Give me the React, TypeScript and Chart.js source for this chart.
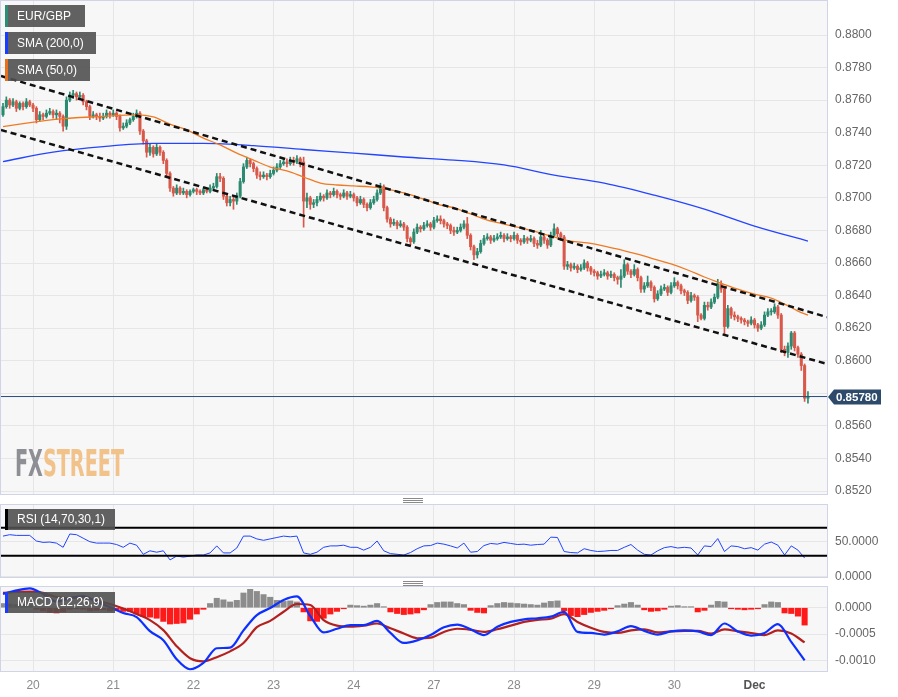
import { useEffect, useRef } from "react";
import { Chart, registerables } from "chart.js";

Chart.register(...registerables);

// ---------------- DATA ----------------
// hourly EUR/GBP candles, index 0 = first candle (Nov 19, ~15:00)
const FIRST_OPEN = 0.8751;
const closes = [
  0.8756, 0.8760, 0.8757, 0.8759, 0.8755, 0.8758, 0.8756, 0.8759, 0.8757, 0.8755,
  0.8748, 0.8751, 0.8750, 0.8752, 0.8753, 0.8751, 0.8752, 0.8750, 0.8744, 0.8760,
  0.8763, 0.8764, 0.8762, 0.8763, 0.8759, 0.8756, 0.8750, 0.8751, 0.8750, 0.8749,
  0.8750, 0.8752, 0.8751, 0.8752, 0.8750, 0.8743, 0.8744, 0.8746, 0.8748, 0.8750,
  0.8752, 0.8741, 0.8735, 0.8728, 0.8731, 0.8727, 0.8731, 0.8728, 0.8723, 0.8715,
  0.8706, 0.8703, 0.8706, 0.8703, 0.8704, 0.8702, 0.8704, 0.8705, 0.8704, 0.8703,
  0.8705, 0.8704, 0.8706, 0.8707, 0.8713, 0.8712, 0.8701, 0.8697, 0.8699, 0.8698,
  0.8701, 0.8710, 0.8719, 0.8723, 0.8721, 0.8718, 0.8714, 0.8713, 0.8714, 0.8713,
  0.8715, 0.8717, 0.8719, 0.8721, 0.8722, 0.8721, 0.8723, 0.8722, 0.8724, 0.8722,
  0.8698, 0.8700, 0.8696, 0.8697, 0.8699, 0.8701, 0.8700, 0.8703, 0.8702, 0.8704,
  0.8702, 0.8701, 0.8703, 0.8701, 0.8702, 0.8700, 0.8697, 0.8699, 0.8696, 0.8694,
  0.8697, 0.8699, 0.8703, 0.8707, 0.8694, 0.8687, 0.8684, 0.8685, 0.8683, 0.8684,
  0.8682, 0.8675, 0.8673, 0.8679, 0.8682, 0.8681, 0.8683, 0.8684, 0.8682, 0.8686,
  0.8687, 0.8686, 0.8684, 0.8683, 0.8680, 0.8679, 0.8680, 0.8682, 0.8684, 0.8677,
  0.8670, 0.8665, 0.8667, 0.8672, 0.8675, 0.8676, 0.8674, 0.8675, 0.8676, 0.8677,
  0.8675, 0.8676, 0.8675, 0.8677, 0.8674, 0.8673, 0.8675, 0.8674, 0.8675, 0.8672,
  0.8671, 0.8676, 0.8674, 0.8671, 0.8677, 0.8681, 0.8678, 0.8676, 0.8658, 0.8659,
  0.8657, 0.8658, 0.8656, 0.8657, 0.8660, 0.8657, 0.8655, 0.8654, 0.8652, 0.8653,
  0.8654, 0.8652, 0.8653, 0.8651, 0.8650, 0.8652, 0.8659, 0.8655, 0.8653, 0.8656,
  0.8651, 0.8644, 0.8646, 0.8648, 0.8645, 0.8638, 0.8641, 0.8644, 0.8645, 0.8642,
  0.8646, 0.8648, 0.8646, 0.8643, 0.8642, 0.8637, 0.8640, 0.8639, 0.8628, 0.8626,
  0.8634, 0.8633, 0.8636, 0.8639, 0.8647, 0.8644, 0.8621, 0.8632, 0.8628, 0.8627,
  0.8626, 0.8625, 0.8624, 0.8623, 0.8625, 0.8622, 0.8620, 0.8622, 0.8628, 0.8630,
  0.8630, 0.8633, 0.8628, 0.8607, 0.8605, 0.8609, 0.8617, 0.8608, 0.8604, 0.8597,
  0.8577, 0.8578,
];
const highs = [
  0.8758, 0.8762, 0.8761, 0.8761, 0.8760, 0.8759, 0.8759, 0.8761, 0.8760, 0.8758,
  0.8756, 0.8753, 0.8752, 0.8754, 0.8755, 0.8754, 0.8754, 0.8753, 0.8751, 0.8762,
  0.8765, 0.8766, 0.8765, 0.8765, 0.8764, 0.8760, 0.8757, 0.8753, 0.8752, 0.8752,
  0.8752, 0.8754, 0.8753, 0.8754, 0.8753, 0.8751, 0.8746, 0.8748, 0.8749, 0.8752,
  0.8754, 0.8753, 0.8742, 0.8736, 0.8733, 0.8732, 0.8733, 0.8732, 0.8729, 0.8724,
  0.8716, 0.8707, 0.8708, 0.8707, 0.8706, 0.8705, 0.8705, 0.8706, 0.8706, 0.8705,
  0.8706, 0.8706, 0.8708, 0.8709, 0.8715, 0.8715, 0.8713, 0.8702, 0.8701, 0.8701,
  0.8703, 0.8712, 0.8721, 0.8725, 0.8724, 0.8722, 0.8719, 0.8716, 0.8716, 0.8715,
  0.8717, 0.8719, 0.8721, 0.8723, 0.8724, 0.8724, 0.8725, 0.8725, 0.8726, 0.8725,
  0.8725, 0.8703, 0.8701, 0.8699, 0.8701, 0.8703, 0.8702, 0.8705, 0.8704, 0.8706,
  0.8705, 0.8703, 0.8705, 0.8704, 0.8704, 0.8703, 0.8701, 0.8701, 0.8700, 0.8697,
  0.8699, 0.8701, 0.8705, 0.8709, 0.8708, 0.8695, 0.8688, 0.8687, 0.8686, 0.8686,
  0.8685, 0.8683, 0.8676, 0.8681, 0.8684, 0.8683, 0.8685, 0.8686, 0.8685, 0.8688,
  0.8689, 0.8689, 0.8687, 0.8685, 0.8684, 0.8682, 0.8682, 0.8684, 0.8686, 0.8688,
  0.8678, 0.8671, 0.8669, 0.8674, 0.8677, 0.8678, 0.8677, 0.8677, 0.8678, 0.8679,
  0.8678, 0.8678, 0.8677, 0.8679, 0.8678, 0.8675, 0.8677, 0.8676, 0.8677, 0.8676,
  0.8674, 0.8680, 0.8677, 0.8675, 0.8679, 0.8684, 0.8682, 0.8679, 0.8677, 0.8661,
  0.8660, 0.8660, 0.8659, 0.8659, 0.8662, 0.8661, 0.8658, 0.8656, 0.8655, 0.8655,
  0.8656, 0.8655, 0.8655, 0.8654, 0.8652, 0.8656, 0.8662, 0.8660, 0.8656, 0.8659,
  0.8657, 0.8652, 0.8648, 0.8652, 0.8649, 0.8646, 0.8643, 0.8646, 0.8647, 0.8646,
  0.8648, 0.8651, 0.8649, 0.8647, 0.8644, 0.8643, 0.8642, 0.8641, 0.8640, 0.8629,
  0.8636, 0.8636, 0.8638, 0.8641, 0.8650, 0.8649, 0.8645, 0.8634, 0.8633, 0.8630,
  0.8628, 0.8627, 0.8626, 0.8625, 0.8627, 0.8626, 0.8623, 0.8624, 0.8630, 0.8632,
  0.8632, 0.8635, 0.8634, 0.8629, 0.8609, 0.8611, 0.8618, 0.8618, 0.8609, 0.8605,
  0.8598, 0.8581,
];
const lows = [
  0.8750, 0.8755, 0.8755, 0.8756, 0.8753, 0.8754, 0.8754, 0.8755, 0.8756, 0.8753,
  0.8746, 0.8747, 0.8748, 0.8749, 0.8751, 0.8749, 0.8748, 0.8746, 0.8741, 0.8742,
  0.8759, 0.8761, 0.8760, 0.8761, 0.8757, 0.8754, 0.8748, 0.8749, 0.8748, 0.8747,
  0.8748, 0.8749, 0.8749, 0.8750, 0.8748, 0.8741, 0.8742, 0.8743, 0.8745, 0.8747,
  0.8749, 0.8739, 0.8733, 0.8725, 0.8726, 0.8725, 0.8726, 0.8726, 0.8721, 0.8713,
  0.8704, 0.8701, 0.8702, 0.8702, 0.8702, 0.8700, 0.8701, 0.8703, 0.8702, 0.8702,
  0.8702, 0.8703, 0.8703, 0.8705, 0.8706, 0.8710, 0.8699, 0.8695, 0.8695, 0.8693,
  0.8696, 0.8700, 0.8709, 0.8718, 0.8719, 0.8716, 0.8712, 0.8711, 0.8712, 0.8711,
  0.8712, 0.8714, 0.8716, 0.8718, 0.8720, 0.8719, 0.8720, 0.8720, 0.8721, 0.8719,
  0.8682, 0.8694, 0.8693, 0.8694, 0.8695, 0.8698, 0.8698, 0.8699, 0.8700, 0.8701,
  0.8700, 0.8699, 0.8700, 0.8699, 0.8700, 0.8698, 0.8695, 0.8696, 0.8694, 0.8692,
  0.8693, 0.8696, 0.8698, 0.8702, 0.8692, 0.8685, 0.8682, 0.8683, 0.8681, 0.8682,
  0.8680, 0.8673, 0.8671, 0.8672, 0.8678, 0.8679, 0.8680, 0.8682, 0.8680, 0.8681,
  0.8685, 0.8684, 0.8682, 0.8681, 0.8678, 0.8677, 0.8678, 0.8679, 0.8681, 0.8675,
  0.8668, 0.8662, 0.8663, 0.8666, 0.8671, 0.8674, 0.8672, 0.8673, 0.8674, 0.8675,
  0.8673, 0.8674, 0.8673, 0.8674, 0.8672, 0.8671, 0.8672, 0.8672, 0.8673, 0.8670,
  0.8669, 0.8670, 0.8672, 0.8669, 0.8670, 0.8676, 0.8676, 0.8674, 0.8656, 0.8656,
  0.8655, 0.8656, 0.8654, 0.8655, 0.8656, 0.8655, 0.8653, 0.8652, 0.8650, 0.8651,
  0.8652, 0.8650, 0.8651, 0.8649, 0.8647, 0.8645, 0.8651, 0.8653, 0.8651, 0.8652,
  0.8649, 0.8642, 0.8642, 0.8645, 0.8643, 0.8636, 0.8637, 0.8640, 0.8643, 0.8640,
  0.8641, 0.8645, 0.8644, 0.8641, 0.8640, 0.8635, 0.8636, 0.8637, 0.8624, 0.8625,
  0.8625, 0.8631, 0.8632, 0.8635, 0.8638, 0.8642, 0.8616, 0.8620, 0.8626, 0.8625,
  0.8624, 0.8623, 0.8622, 0.8621, 0.8622, 0.8620, 0.8618, 0.8619, 0.8621, 0.8627,
  0.8628, 0.8629, 0.8626, 0.8605, 0.8603, 0.8602, 0.8607, 0.8606, 0.8602, 0.8594,
  0.8575, 0.8574,
];

const dayTicks = [9, 33, 57, 81, 105, 129, 153, 177, 201, 225];
const dayLabels = ["20", "21", "22", "23", "24", "27", "28", "29", "30", "Dec"];
const priceTicks = [0.852, 0.854, 0.856, 0.858, 0.86, 0.862, 0.864, 0.866, 0.868, 0.87, 0.872, 0.874, 0.876, 0.878, 0.88];

const sma200X = [0, 15, 30, 45, 60, 75, 90, 105, 120, 135, 150, 165, 180, 195, 210, 225, 241];
const sma200 = [0.87223, 0.87281, 0.87315, 0.87334, 0.87334, 0.87321, 0.87297, 0.87275, 0.87251, 0.87232, 0.87202, 0.8714, 0.87091, 0.87017, 0.86931, 0.86827, 0.86735];

const sma50X = [0, 15, 30, 40, 45, 50, 55, 60, 65, 70, 75, 80, 85, 90, 95, 100, 105, 110, 115, 120, 125, 130, 135, 140, 145, 150, 155, 160, 165, 170, 175, 180, 185, 190, 195, 200, 205, 210, 214, 220, 225, 230, 234, 238, 241];
const sma50 = [
  0.87438, 0.87481, 0.875, 0.87509, 0.87497, 0.87453, 0.87417, 0.87367, 0.87325, 0.87275,
  0.87232, 0.87189, 0.87165, 0.87128, 0.87091, 0.87079, 0.87073, 0.87067, 0.87054, 0.8703,
  0.86999, 0.86962, 0.86938, 0.86901, 0.86864, 0.86839, 0.86815, 0.8679, 0.8676, 0.86735,
  0.86723, 0.86704, 0.8668, 0.86655, 0.86624, 0.86594, 0.86557, 0.86514, 0.86483, 0.8644,
  0.86409, 0.86385, 0.86348, 0.86305, 0.8628,
];

const trendX = [-0.6, 246.7];
const upperTrend = [0.87748, 0.86268];
const lowerTrend = [0.87417, 0.8598];
const lastPrice = 0.8578;

const rsiStep = 2;
const rsi = [
  58, 60, 59, 59, 59, 51, 49, 49.5, 48, 42,
  61, 60, 55, 50, 48, 48, 48, 46, 42, 48,
  45, 32, 37, 35, 37, 24, 29.5, 28, 29.5, 31,
  31, 34, 44, 34, 34, 41, 58, 58, 54, 52,
  54, 56, 58, 57, 58, 34, 32, 35, 42, 44,
  44, 45, 42, 42, 38, 42, 51, 37, 33, 32,
  31, 34.5, 40, 44, 44.5, 48, 46.5, 44, 41, 48,
  35, 36, 44.5, 47.5, 46.5, 49, 47.5, 46, 46.5, 45,
  46, 46.5, 56.5, 56, 36, 34.5, 34, 40, 37.5, 36,
  36.5, 37.5, 37.5, 42, 46, 38, 32, 31, 37, 41.5,
  43, 41, 42, 41, 31, 44, 43, 54.5, 36, 44,
  43, 40, 41.5, 38, 46.5, 49.5, 45, 31, 44, 38,
  26.7,
];
const rsiLevels = [70, 30];
const rsiTicks = [0, 50];

const macdStep = 4;
const macd = [
  0.000262, 0.000329, 0.000367, 0.000262, 0.000118, 0.000185, 0.000223, 0.000109, 0.000013, -0.000101,
  -0.000178, -0.000445, -0.000617, -0.00098, -0.00117, -0.00105, -0.00077, -0.00076, -0.00043, -0.00014,
  -0.000006, 0.000147, 0.000214, -0.000159, -0.00047, -0.0004, -0.00033, -0.00033, -0.00025, -0.00048,
  -0.00067, -0.00062, -0.00052, -0.00037, -0.00032, -0.00041, -0.00052, -0.00036, -0.00027, -0.00022,
  -0.0002, -0.00017, -0.00008, -0.00046, -0.00048, -0.00051, -0.00045, -0.00035, -0.00044, -0.00051,
  -0.00045, -0.00043, -0.00045, -0.00052, -0.0003, -0.00045, -0.00053, -0.00048, -0.00031, -0.00065,
  -0.001,
];
const signal = [
  0.000281, 0.0003, 0.000306, 0.000281, 0.000204, 0.000185, 0.000199, 0.000138, 0.000071, -0.000015,
  -0.00012, -0.000235, -0.000426, -0.000732, -0.00096, -0.00102, -0.00094, -0.00083, -0.00067, -0.00037,
  -0.00025, -0.000076, 0.000071, 0.000052, -0.000235, -0.00034, -0.00036, -0.00034, -0.0003, -0.00039,
  -0.00049, -0.00058, -0.00057, -0.00046, -0.0004, -0.00042, -0.00046, -0.00041, -0.00034, -0.00027,
  -0.00023, -0.00021, -0.00012, -0.00027, -0.00038, -0.00046, -0.00048, -0.00043, -0.00041, -0.00047,
  -0.00045, -0.00044, -0.00044, -0.00049, -0.00041, -0.00045, -0.00048, -0.00052, -0.00043, -0.00049,
  -0.00066,
];
const histStep = 2;
const hist = [
  0.00008, 0.00007, 0.00006, 0.00006, 0.00005, -0.00003, -0.00006, -0.00009, -0.0001, -0.00008,
  -0.00003, -0.00002, -0.00003, -0.00006, -0.00005, -0.00004, -0.00006, -0.00005, -0.00007, -0.00007,
  -0.00012, -0.00017, -0.00018, -0.0002, -0.00026, -0.00031, -0.0003, -0.00029, -0.00022, -0.00012,
  -0.00003, 0.00008, 0.00018, 0.00015, 0.00011, 0.00014, 0.00028, 0.00035, 0.00031, 0.00025,
  0.0002, 0.00014, 0.00012, 0.00013, 0.00011, -0.00008, -0.00025, -0.00026, -0.0002, -0.00012,
  -0.00007, -0.00002, 0.00005, 0.00004, 0.00003, 0.00005, 0.00008, 0.00002, -0.00008, -0.00011,
  -0.00013, -0.00012, -0.0001, -0.00004, 0.00006, 0.0001, 0.00011, 0.00011, 0.00008, 0.00006,
  -0.00005, -0.00009, -0.0001, 0.00004, 0.00008, 0.0001, 0.00009, 0.00008, 0.00007, 0.00006,
  0.00005, 0.00009, 0.00012, 0.00013, -0.00006, -0.00015, -0.00017, -0.00013, -0.00009, -0.00007,
  -0.00005, -0.00002, 0.00004, 0.00007, 0.0001, 0.00005, -0.00004, -0.00007, -0.00006, -0.00003,
  0.00003, 0.00004, 0.00002, 0.00002, -0.00008, -0.00005, 0.00005, 0.00012, 0.00011, -0.00002,
  -0.00003, -0.00004, -0.00003, -0.00002, 0.00006, 0.00011, 0.0001, -0.0001, -0.00011, -0.00016,
  -0.00033,
];
const macdTicks = [0, -0.0005, -0.001];

// ---------------- STYLE ----------------
const X_MIN = -0.6;
const X_MAX = 246.7;
const FONT = '"Liberation Sans", Arial, sans-serif';
const GRID = "#e6e6e6";
const BORDER = "#cfd4e6";
const PANEL_BG = "#f7f7f7";
const UP = "#2b8a6f";
const DOWN = "#d8584a";
const AXIS_W = 71;

Chart.defaults.font.family = FONT;

const panelPlugin = {
  id: "panel",
  beforeDraw(chart: any) {
    const { ctx, chartArea: a } = chart;
    ctx.save();
    ctx.fillStyle = PANEL_BG;
    ctx.fillRect(a.left, a.top, a.right - a.left, a.bottom - a.top);
    ctx.restore();
  },
  afterDraw(chart: any) {
    const { ctx, chartArea: a } = chart;
    ctx.save();
    ctx.strokeStyle = BORDER;
    ctx.lineWidth = 1;
    ctx.strokeRect(a.left - 0.5, a.top - 0.5, a.right - a.left + 1, a.bottom - a.top + 1);
    ctx.restore();
  },
};

const watermarkPlugin = {
  id: "watermark",
  beforeDatasetsDraw(chart: any) {
    const ctx = chart.ctx;
    ctx.save();
    ctx.font = 'bold 38px "DejaVu Sans Condensed", "Liberation Sans Narrow", sans-serif';
    const w1 = ctx.measureText("FX").width;
    const w2 = ctx.measureText("STREET").width;
    const sx = 109 / (w1 + w2);
    ctx.translate(chart.chartArea.left + 14, 476);
    ctx.scale(sx, 1);
    ctx.textBaseline = "alphabetic";
    ctx.fillStyle = "#8e8e95";
    ctx.fillText("FX", 0, 0);
    ctx.fillStyle = "#f2c28b";
    ctx.fillText("STREET", w1, 0);
    ctx.restore();
  },
};

const priceTagPlugin = {
  id: "priceTag",
  afterDraw(chart: any) {
    const { ctx, chartArea: a } = chart;
    const y = Math.round(chart.scales.y.getPixelForValue(lastPrice));
    const x0 = a.right + 1;
    ctx.save();
    ctx.fillStyle = "#2e4a6b";
    ctx.beginPath();
    ctx.moveTo(x0, y);
    ctx.lineTo(x0 + 6, y - 7.5);
    ctx.lineTo(x0 + 53, y - 7.5);
    ctx.lineTo(x0 + 53, y + 7.5);
    ctx.lineTo(x0 + 6, y + 7.5);
    ctx.closePath();
    ctx.fill();
    ctx.font = "bold 11.5px " + FONT;
    ctx.fillStyle = "#ffffff";
    ctx.textBaseline = "middle";
    ctx.textAlign = "left";
    ctx.fillText(lastPrice.toFixed(5), x0 + 8, y + 0.5);
    ctx.restore();
  },
};

function xAxis(showLabels: boolean) {
  return {
    type: "linear",
    min: X_MIN,
    max: X_MAX,
    offset: false,
    afterBuildTicks: (s: any) => {
      s.ticks = dayTicks.map((v) => ({ value: v }));
    },
    afterFit: (s: any) => {
      s.height = showLabels ? 26 : 0;
      s.paddingLeft = 0;
      s.paddingRight = 0;
      s.paddingTop = 0;
      s.paddingBottom = 0;
    },
    grid: { color: GRID, lineWidth: 1, drawTicks: false, offset: false },
    border: { display: false },
    ticks: {
      display: showLabels,
      autoSkip: false,
      maxRotation: 0,
      padding: 7,
      color: (c: any) => (dayLabels[c.index] === "Dec" ? "#555" : "#8a8a8a"),
      font: (c: any) => ({ family: FONT, size: 12, weight: dayLabels[c.index] === "Dec" ? "bold" : "normal" }),
      callback: (_v: any, i: number) => dayLabels[i] ?? "",
    },
  };
}

function yAxis(min: number, max: number, ticks: number[], hideNear?: number) {
  return {
    position: "right",
    min,
    max,
    afterBuildTicks: (s: any) => {
      s.ticks = ticks.map((v) => ({ value: v }));
    },
    afterFit: (s: any) => {
      s.width = AXIS_W;
      s.paddingTop = 0;
      s.paddingBottom = 0;
      s.paddingLeft = 0;
      s.paddingRight = 0;
    },
    grid: { color: GRID, lineWidth: 1, drawTicks: false },
    border: { display: false },
    ticks: {
      padding: 8,
      color: "#666",
      font: { family: FONT, size: 12 },
      callback: (v: any) => {
        const n = Number(v);
        if (hideNear !== undefined && Math.abs(n - hideNear) < 0.0005) return "";
        return n.toFixed(4);
      },
    },
  };
}

const baseOptions = {
  animation: false,
  responsive: false,
  events: [],
  plugins: { legend: { display: false }, tooltip: { enabled: false } },
};

function Tag({ x, y, w, h, text, stripe }: any) {
  return (
    <div
      style={{
        position: "absolute",
        left: x,
        top: y,
        width: w,
        height: h,
        background: "rgba(80,80,80,0.9)",
        color: "#fff",
        font: "12px " + FONT,
        lineHeight: h + "px",
        boxSizing: "border-box",
        paddingLeft: 12,
        whiteSpace: "nowrap",
      }}
    >
      <div style={{ position: "absolute", left: 0, top: 0, width: 3, height: h, background: stripe }} />
      {text}
    </div>
  );
}

function Handle({ y }: any) {
  return (
    <div style={{ position: "absolute", left: 403, top: y, width: 20, height: 5 }}>
      {[0, 2, 4].map((d) => (
        <div key={d} style={{ position: "absolute", left: 0, top: d, width: 20, height: 1, background: "#8a8a8a" }} />
      ))}
    </div>
  );
}

export default function App() {
  const mainRef = useRef<HTMLCanvasElement>(null);
  const rsiRef = useRef<HTMLCanvasElement>(null);
  const macdRef = useRef<HTMLCanvasElement>(null);

  useEffect(() => {
    const charts: any[] = [];
    const opens = closes.map((c, i) => (i === 0 ? FIRST_OPEN : closes[i - 1]));
    const colors = closes.map((c, i) => (c >= opens[i] ? UP : DOWN));

    charts.push(
      new Chart(mainRef.current as HTMLCanvasElement, {
        type: "line",
        data: {
          datasets: [
            {
              type: "line",
              data: [
                { x: trendX[0], y: upperTrend[0] },
                { x: trendX[1], y: upperTrend[1] },
              ],
              borderColor: "#111",
              borderWidth: 2.5,
              borderDash: [6, 4],
              pointRadius: 0,
              order: 0,
            },
            {
              type: "line",
              data: [
                { x: trendX[0], y: lowerTrend[0] },
                { x: trendX[1], y: lowerTrend[1] },
              ],
              borderColor: "#111",
              borderWidth: 2.5,
              borderDash: [6, 4],
              pointRadius: 0,
              order: 0,
            },
            {
              type: "line",
              data: sma50X.map((x, i) => ({ x, y: sma50[i] })),
              borderColor: "#f07a22",
              borderWidth: 1.3,
              pointRadius: 0,
              cubicInterpolationMode: "monotone",
              order: 1,
            },
            {
              type: "line",
              data: sma200X.map((x, i) => ({ x, y: sma200[i] })),
              borderColor: "#2444ff",
              borderWidth: 1.3,
              pointRadius: 0,
              cubicInterpolationMode: "monotone",
              order: 1,
            },
            {
              type: "line",
              data: [
                { x: X_MIN, y: lastPrice },
                { x: X_MAX, y: lastPrice },
              ],
              borderColor: "#2a4d7e",
              borderWidth: 1,
              pointRadius: 0,
              order: 2,
            },
            {
              type: "bar",
              data: closes.map((c, i) => ({ x: i, y: [opens[i], c] })),
              backgroundColor: colors,
              barThickness: 2.4,
              minBarLength: 1,
              grouped: false,
              order: 3,
            },
            {
              type: "bar",
              data: closes.map((_c, i) => ({ x: i, y: [lows[i], highs[i]] })),
              backgroundColor: colors,
              barThickness: 1,
              grouped: false,
              order: 4,
            },
          ],
        },
        options: {
          ...baseOptions,
          layout: { padding: { left: 1, top: 1, right: 0, bottom: 1 } },
          scales: {
            x: xAxis(false),
            y: yAxis(0.851816, 0.882088, priceTicks, lastPrice),
          },
        } as any,
        plugins: [panelPlugin, watermarkPlugin, priceTagPlugin],
      } as any)
    );

    charts.push(
      new Chart(rsiRef.current as HTMLCanvasElement, {
        type: "line",
        data: {
          datasets: [
            ...rsiLevels.map((lv) => ({
              type: "line",
              data: [
                { x: X_MIN, y: lv },
                { x: X_MAX, y: lv },
              ],
              borderColor: "#000",
              borderWidth: 2,
              pointRadius: 0,
              order: 1,
            })),
            {
              type: "line",
              data: rsi.map((v, k) => ({ x: k * rsiStep, y: v })),
              borderColor: "#2244ff",
              borderWidth: 1,
              pointRadius: 0,
              tension: 0,
              order: 2,
            },
          ],
        },
        options: {
          ...baseOptions,
          layout: { padding: { left: 1, top: 1, right: 0, bottom: 11 } },
          scales: {
            x: xAxis(false),
            y: yAxis(-0.4, 102.4, rsiTicks),
          },
        } as any,
        plugins: [panelPlugin],
      } as any)
    );

    charts.push(
      new Chart(macdRef.current as HTMLCanvasElement, {
        type: "line",
        data: {
          datasets: [
            {
              type: "line",
              data: macd.map((v, k) => ({ x: k * macdStep, y: v })),
              borderColor: "#0d30ff",
              borderWidth: 2.2,
              pointRadius: 0,
              cubicInterpolationMode: "monotone",
              order: 1,
            },
            {
              type: "line",
              data: signal.map((v, k) => ({ x: k * macdStep, y: v })),
              borderColor: "#b32020",
              borderWidth: 2.2,
              pointRadius: 0,
              cubicInterpolationMode: "monotone",
              order: 2,
            },
            {
              type: "bar",
              data: hist.map((v, k) => ({ x: k * histStep, y: v })),
              backgroundColor: hist.map((v) => (v >= 0 ? "#8c8c8c" : "#ff1a1a")),
              barThickness: 5.4,
              grouped: false,
              order: 3,
            },
          ],
        },
        options: {
          ...baseOptions,
          layout: { padding: { left: 1, top: 1, right: 0, bottom: 0 } },
          scales: {
            x: xAxis(true),
            y: yAxis(-0.001203, 0.000394, macdTicks),
          },
        } as any,
        plugins: [panelPlugin],
      } as any)
    );

    return () => charts.forEach((c) => c.destroy());
  }, []);

  return (
    <div style={{ position: "absolute", left: 0, top: 0, width: 898, height: 697, background: "#fff", overflow: "hidden" }}>
      <canvas ref={mainRef} width={898} height={495} style={{ position: "absolute", left: 0, top: 0, display: "block" }} />
      <canvas ref={rsiRef} width={898} height={84} style={{ position: "absolute", left: 0, top: 504, display: "block" }} />
      <canvas ref={macdRef} width={898} height={111} style={{ position: "absolute", left: 0, top: 586, display: "block" }} />
      <Tag x={5} y={5} w={80} h={22} text="EUR/GBP" stripe="#2e8b76" />
      <Tag x={5} y={32} w={91} h={22} text="SMA (200,0)" stripe="#1a3cff" />
      <Tag x={5} y={59} w={85} h={22} text="SMA (50,0)" stripe="#e8701a" />
      <Tag x={5} y={509} w={110} h={21} text="RSI (14,70,30,1)" stripe="#000" />
      <Tag x={5} y={592} w={110} h={21} text="MACD (12,26,9)" stripe="#1a3cff" />
      <Handle y={498} />
      <Handle y={581} />
    </div>
  );
}
